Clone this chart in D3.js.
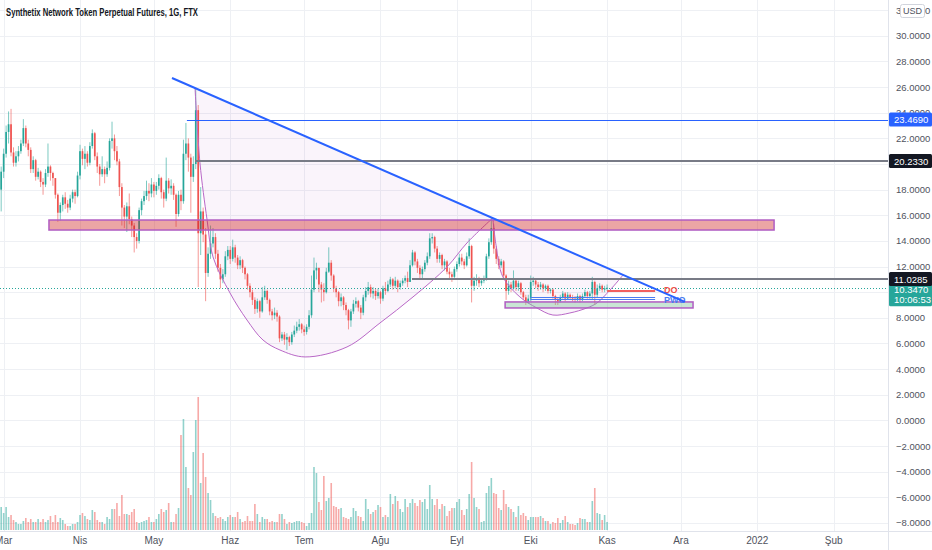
<!DOCTYPE html>
<html><head><meta charset="utf-8">
<script src="https://cdn.jsdelivr.net/npm/d3@7"></script>
<style>
body{margin:0;background:#fff;}
svg{display:block;font-family:"Liberation Sans",Arial,sans-serif;}
</style>
</head><body>
<svg id="c" width="932" height="550"></svg>
<script>
// ---------------- DATA ----------------
const title = "Synthetix Network Token Perpetual Futures, 1G, FTX";
const startDate = "2021-02-28";   // first daily candle
const firstOpen = 18.0;           // open of the first candle (others open at previous close)
const closes = [
19.4,20.8,22.5,23.1,20.9,20.1,20.6,21.0,21.6,22.8,
21.6,21.1,19.6,20.3,19.0,19.4,18.6,18.4,19.3,19.8,
19.3,18.9,17.6,16.2,16.8,17.4,16.9,16.6,17.3,17.8,
17.5,19.1,21.0,20.4,20.8,20.1,21.4,22.4,20.6,19.8,
19.2,19.6,19.2,19.7,21.8,22.0,21.0,20.2,18.2,16.6,
15.9,16.7,15.7,15.2,14.3,14.0,16.4,17.1,17.5,17.9,
17.7,18.4,17.9,18.3,18.9,17.8,17.3,18.7,18.1,18.3,
17.6,16.1,17.6,17.1,20.8,21.6,20.5,19.0,20.0,24.2,
14.6,16.3,14.5,11.5,13.0,13.8,14.3,13.0,11.9,11.0,
11.4,12.8,13.3,12.6,13.5,12.7,12.1,12.5,11.9,11.4,
10.5,10.0,9.4,8.7,9.3,8.5,9.6,10.1,9.4,8.5,
8.2,8.4,8.1,6.4,6.7,6.3,6.5,6.1,6.7,7.0,
7.3,7.5,7.1,6.9,7.3,8.2,10.2,11.7,11.9,10.6,
10.2,10.0,11.6,12.3,11.3,10.3,10.0,9.3,9.6,9.0,
8.6,7.8,8.5,9.1,9.3,8.8,8.4,9.6,10.1,10.4,
9.9,10.1,9.7,10.0,9.5,10.3,10.1,10.6,11.0,10.5,
10.9,10.4,10.7,10.9,11.1,10.8,12.1,13.1,12.4,11.9,
11.4,11.8,12.3,12.8,14.2,14.3,13.4,12.6,12.9,12.1,
12.4,11.6,11.4,11.2,11.8,12.2,12.7,12.4,12.1,12.8,
13.6,10.5,10.9,11.1,10.7,10.9,11.1,12.8,13.9,15.0,
13.4,12.6,12.1,12.4,11.3,10.1,10.6,10.3,10.9,10.4,
10.7,10.0,9.6,9.3,9.5,10.8,10.9,10.6,10.4,10.6,
10.3,10.5,10.1,10.2,9.7,9.4,9.3,9.6,9.9,9.5,
9.8,9.6,9.5,9.4,9.7,9.4,9.7,10.0,9.7,9.9,
10.8,9.8,10.3,10.5,10.2,10.3,10.347];
const highs = [
19.8,21.2,23.0,24.1,24.3,21.3,21.0,21.4,21.9,23.5,
23.0,21.9,21.3,20.6,20.4,19.7,19.5,18.9,19.6,21.6,
19.9,19.4,18.9,17.7,17.0,17.6,17.8,17.2,17.6,18.0,
18.0,19.4,21.5,21.2,21.4,21.0,21.7,22.7,22.5,20.9,
20.0,20.6,19.8,20.2,22.0,23.3,22.3,21.4,20.4,18.5,
16.8,17.0,17.7,15.9,15.4,14.6,16.6,17.3,17.9,18.7,
18.5,18.9,18.6,18.6,19.2,19.0,18.0,20.5,18.9,18.8,
18.5,17.7,17.9,18.0,21.9,23.2,22.0,20.8,20.6,25.9,
24.6,18.2,16.6,15.0,13.5,15.2,15.0,14.6,13.3,12.2,
11.8,13.2,13.6,13.6,14.1,13.7,12.9,12.8,12.6,12.0,
11.5,10.7,10.2,9.6,9.5,9.4,10.4,10.5,10.2,9.5,
8.7,8.8,8.6,8.2,6.9,6.9,6.8,6.6,6.9,7.4,
7.7,7.9,7.6,7.4,7.5,8.6,11.3,12.7,12.3,11.9,
10.8,10.7,11.9,13.5,12.5,11.4,10.5,10.1,9.9,9.7,
9.2,8.7,8.7,9.4,9.6,9.4,9.0,9.8,10.4,10.8,
10.6,10.4,10.3,10.3,10.1,10.5,10.8,10.9,11.2,11.1,
11.2,11.0,10.9,11.1,11.3,11.6,12.5,13.3,13.2,12.6,
12.1,12.0,12.5,13.1,14.6,14.6,14.4,13.6,13.1,13.0,
12.6,12.5,11.9,11.6,12.0,12.4,13.0,13.0,12.6,13.1,
14.2,13.7,11.2,11.4,11.2,11.1,11.3,13.0,14.2,15.8,
15.3,13.6,12.8,12.6,12.5,11.4,10.9,10.8,11.7,11.0,
10.9,10.8,10.1,9.8,9.8,11.3,11.2,11.0,10.8,10.8,
10.7,10.6,10.6,10.3,10.3,9.8,9.6,9.8,10.1,10.0,
10.0,9.9,9.8,9.7,9.9,9.8,9.9,10.2,10.1,10.1,
11.2,10.9,10.6,10.7,10.6,10.5,10.6];
const lows = [
16.3,18.9,20.5,21.6,20.6,19.8,19.8,20.2,20.8,21.4,
21.3,20.6,19.3,19.3,18.7,18.8,18.2,17.6,18.2,19.0,
18.7,18.3,17.3,15.5,15.6,16.3,16.5,16.2,16.4,17.0,
16.9,17.4,18.8,19.9,19.6,19.8,19.9,21.2,20.3,19.3,
18.3,19.0,18.5,19.0,19.5,21.2,20.3,19.9,17.5,15.2,
15.0,14.7,15.3,14.3,13.1,13.4,13.8,16.0,16.8,17.2,
17.1,17.4,17.4,17.6,18.0,17.3,16.6,17.1,17.7,17.6,
17.2,15.1,15.9,16.4,16.9,20.3,19.4,16.2,18.6,19.6,
10.4,12.9,13.9,9.3,11.2,12.6,13.5,12.6,11.6,10.3,
10.7,11.2,12.5,12.2,12.4,12.3,11.8,11.8,11.5,11.0,
10.2,9.6,9.0,8.3,8.4,8.0,8.4,9.4,9.1,8.2,
7.8,7.9,7.7,6.1,6.2,5.9,5.5,5.8,5.9,6.5,
6.8,7.0,6.8,6.6,6.7,7.1,8.0,10.0,11.0,10.0,
9.2,9.3,9.9,11.5,10.9,10.0,9.6,8.9,8.9,8.6,
8.2,7.1,7.3,8.3,8.8,8.5,7.9,8.2,9.3,9.8,
9.6,9.5,9.4,9.5,9.1,9.3,9.8,10.0,10.4,10.2,
10.3,10.0,10.2,10.5,10.7,10.4,10.8,12.0,12.1,11.5,
11.0,11.1,11.6,12.1,12.6,13.8,13.1,12.3,12.3,11.8,
11.7,11.4,11.0,10.8,11.1,11.6,12.0,12.1,11.8,12.0,
12.6,9.2,10.1,10.5,10.4,10.5,10.7,10.9,12.6,13.7,
13.0,12.2,11.8,11.9,11.0,9.4,9.8,10.0,10.2,10.1,
10.1,9.8,9.4,9.0,9.1,9.3,10.5,10.3,10.1,10.2,
10.0,10.1,9.9,9.9,9.5,9.0,9.0,9.2,9.5,9.3,
9.4,9.4,9.3,9.2,9.3,9.2,9.3,9.6,9.5,9.5,
9.4,9.0,9.6,10.1,10.0,10.0,10.1];
const volumes = [
23,17,23,13,15,10,8,6,6,9,
12,8,11,8,8,11,8,11,8,10,
14,8,15,8,12,10,6,4,4,6,
6,8,15,17,14,11,10,20,18,10,
8,8,6,13,11,21,21,27,14,35,
16,16,15,18,21,8,7,8,9,10,
13,8,8,11,16,21,18,20,27,8,
8,16,22,95,111,63,42,35,78,110,
133,47,77,53,37,30,17,14,12,13,
11,9,13,15,13,13,18,11,8,9,
14,9,9,26,16,8,13,11,11,8,
9,8,8,16,16,11,6,8,7,8,
9,9,
8,7,4,7,17,63,57,28,20,54,
29,32,47,24,23,21,22,13,12,11,
13,22,19,14,13,9,31,21,16,18,
20,25,23,13,15,13,36,26,34,29,
21,18,31,23,27,31,27,24,30,28,
31,21,45,31,25,31,21,26,24,14,
19,22,22,28,31,20,15,21,36,68,
32,23,21,8,9,37,44,52,37,36,
22,20,40,26,23,21,18,13,24,15,
17,14,10,13,13,13,13,14,12,9,
9,6,8,7,12,7,10,14,8,6,
6,5,7,12,11,11,8,8,29,42,
17,16,10,15,8];

const priceTicks = [-8,-6,-4,-2,0,2,4,6,8,10,12,14,16,18,20,22,24,26,28,30,32];
const monthLabels = [
  ["2021-03-01","Mar"],["2021-04-01","Nis"],["2021-05-01","May"],["2021-06-01","Haz"],
  ["2021-07-01","Tem"],["2021-08-01","Ağu"],["2021-09-01","Eyl"],["2021-10-01","Eki"],
  ["2021-11-01","Kas"],["2021-12-01","Ara"],["2022-01-01","2022"],["2022-02-01","Şub"]];

// drawing anchors: [days since 2021-03-01, price]
const trendLine = [[68.35, 26.71], [276.6, 9.24]];
const cupArc = [[77.7,25.93],[79.7,20.09],[82.6,15.63],[85.0,12.75],[91.9,9.94],[98.8,7.83],
  [105.3,6.27],[112.2,5.49],[122.4,4.95],[139.4,5.73],[152.8,7.60],[166.2,9.63],
  [180.0,11.97],[188.1,13.84],[198.6,15.79]];
const handleArc = [[198.6,15.79],[199.9,13.68],[202.7,11.19],[209.6,9.63],[216.5,8.77],
  [223.0,8.22],[229.9,8.38],[236.8,8.77],[240.9,9.16],[246.2,10.17],[251.5,11.34]];
const zoneTop = [18.4, 312.8, 14.85, 15.63];     // from day, to day, low, high
const zoneBottom = [203.6, 279.9, 8.77, 9.24];
const levelBlue = [74.4, 23.469];
const levelGray1 = [77.7, 20.233];
const levelGray2 = [165.8, 11.0285];
const lastPrice = 10.347, countdown = "10:06:53";
const doLine = [245, 264.5, 10.09];
const pwoLines = [[213.8, 264.5, 9.63], [213.8, 264.5, 9.47]];

// ---------------- SCALES ----------------
const svg = d3.select("#c");
const plotR = 888, plotB = 531;
const DAY = 864e5, base = Date.UTC(2021, 2, 1);
const atDay = d => new Date(base + d * DAY);
const x = d3.scaleUtc().domain([atDay(0), atDay(365)]).range([3.65, 3.65 + 365 * 2.463]);
const y = d3.scaleLinear().domain([0, 30]).range([420.4, 420.4 - 30 * 12.82]);
const vy = d3.scaleLinear().domain([0, d3.max(volumes)]).range([530, 397]);
const parse = d3.utcParse("%Y-%m-%d");
const t0 = parse(startDate);
const bars = closes.map((c, k) => {
  const o = k === 0 ? firstOpen : closes[k - 1];
  return {d: d3.utcDay.offset(t0, k), o, c,
    h: Math.max(highs[k], o, c), l: Math.min(lows[k], o, c), v: volumes[k], up: c >= o};
});

svg.append("defs").append("clipPath").attr("id", "plot")
  .append("rect").attr("x", 0).attr("y", 0).attr("width", plotR).attr("height", plotB);

// ---------------- GRID ----------------
const grid = svg.append("g").attr("clip-path", "url(#plot)");
grid.selectAll("line.h").data(priceTicks).join("line")
  .attr("x1", 0).attr("x2", plotR).attr("y1", d => Math.round(y(d)) + 0.5).attr("y2", d => Math.round(y(d)) + 0.5)
  .attr("stroke", "#eef0f4").attr("stroke-width", 1);
grid.selectAll("line.v").data(monthLabels).join("line")
  .attr("x1", d => Math.round(x(parse(d[0]))) + 0.5).attr("x2", d => Math.round(x(parse(d[0]))) + 0.5)
  .attr("y1", 0).attr("y2", plotB).attr("stroke", "#eef0f4").attr("stroke-width", 1);

const plot = svg.append("g").attr("clip-path", "url(#plot)");
const P = p => [x(atDay(p[0])), y(p[1])];

// arc fills
const arcLine = d3.line().curve(d3.curveCatmullRom.alpha(0.5));
[cupArc, handleArc].forEach(a => {
  plot.append("path").attr("d", arcLine(a.map(P)) + "Z").attr("fill", "rgba(156,39,176,0.05)").attr("stroke", "none");
});

// volume
plot.append("g").selectAll("rect").data(bars).join("rect")
  .attr("x", d => x(d.d) - 0.8).attr("width", 1.6)
  .attr("y", d => vy(d.v)).attr("height", d => 530 - vy(d.v))
  .attr("fill", d => d.up ? "rgba(38,166,154,0.5)" : "rgba(239,83,80,0.5)");

// candles
const cg = plot.append("g");
cg.selectAll("line").data(bars).join("line")
  .attr("x1", d => x(d.d)).attr("x2", d => x(d.d))
  .attr("y1", d => y(d.h)).attr("y2", d => y(d.l))
  .attr("stroke", d => d.up ? "#26a69a" : "#ef5350").attr("stroke-opacity", 0.6).attr("stroke-width", 1);
cg.selectAll("rect").data(bars).join("rect")
  .attr("x", d => x(d.d) - 0.85).attr("width", 1.7)
  .attr("y", d => y(Math.max(d.o, d.c)))
  .attr("height", d => Math.max(1, Math.abs(y(d.o) - y(d.c))))
  .attr("fill", d => d.up ? "#26a69a" : "#ef5350");

// arc strokes
[cupArc, handleArc].forEach(a => {
  plot.append("path").attr("d", arcLine(a.map(P))).attr("fill", "none")
    .attr("stroke", "#b968c7").attr("stroke-width", 1);
});

// zones
const zone = (z, fill) => plot.append("rect")
  .attr("x", x(atDay(z[0]))).attr("width", x(atDay(z[1])) - x(atDay(z[0])))
  .attr("y", y(z[3])).attr("height", y(z[2]) - y(z[3]))
  .attr("fill", fill).attr("stroke", "#b05cc2").attr("stroke-width", 1.5);
zone(zoneTop, "rgba(205,30,30,0.40)");
zone(zoneBottom, "rgba(120,190,150,0.40)");

// horizontal levels (snapped to the pixel grid)
const hline = (from, to, p, color, w) => {
  const yy = w % 2 === 1 ? Math.round(y(p)) + 0.5 : Math.round(y(p));
  return plot.append("line")
    .attr("x1", x(atDay(from))).attr("x2", to).attr("y1", yy).attr("y2", yy)
    .attr("stroke", color).attr("stroke-width", w);
};
hline(levelBlue[0], plotR, levelBlue[1], "#2962ff", 1);
hline(levelGray1[0], plotR, levelGray1[1], "#787b86", 2);
hline(levelGray2[0], plotR, levelGray2[1], "#787b86", 2);

// current price dotted line
plot.append("line").attr("x1", 0).attr("x2", plotR)
  .attr("y1", Math.round(y(lastPrice)) + 0.5).attr("y2", Math.round(y(lastPrice)) + 0.5)
  .attr("stroke", "#26a69a").attr("stroke-width", 1).attr("stroke-dasharray", "1,2");

// DO / PWO lines
hline(doLine[0], x(atDay(doLine[1])), doLine[2], "#f06060", 2);
pwoLines.forEach(l => hline(l[0], x(atDay(l[1])), l[2], "#4a7cf0", 1));
plot.append("text").attr("x", x(atDay(doLine[1])) + 9).attr("y", y(doLine[2]) + 2)
  .attr("font-size", 9).attr("font-weight", "bold").attr("fill", "#f0504a").text("DO");
plot.append("text").attr("x", x(atDay(doLine[1])) + 9).attr("y", y(pwoLines[1][2]) + 4.5)
  .attr("font-size", 9).attr("font-weight", "bold").attr("fill", "#4a7cf0").text("PWO");

// trend line
plot.append("line")
  .attr("x1", P(trendLine[0])[0]).attr("y1", P(trendLine[0])[1])
  .attr("x2", P(trendLine[1])[0]).attr("y2", P(trendLine[1])[1])
  .attr("stroke", "#2962ff").attr("stroke-width", 2);

// ---------------- AXES ----------------
svg.append("line").attr("x1", plotR + 0.5).attr("x2", plotR + 0.5).attr("y1", 0).attr("y2", 550).attr("stroke", "#e0e3eb");
svg.append("line").attr("x1", 0).attr("x2", 932).attr("y1", plotB + 0.5).attr("y2", plotB + 0.5).attr("stroke", "#e0e3eb");

// tick labels hidden completely behind price labels are skipped
const hiddenTicks = [10, 20];
svg.append("g").selectAll("text").data(priceTicks.filter(t => !hiddenTicks.includes(t))).join("text")
  .attr("x", 896).attr("y", d => y(d) + 3.5)
  .attr("font-size", 9.5).attr("fill", "#50535e").text(d => d3.format(".4f")(d));

svg.append("g").selectAll("text").data(monthLabels).join("text")
  .attr("x", d => x(parse(d[0]))).attr("y", 544).attr("text-anchor", "middle")
  .attr("font-size", 10).attr("fill", "#50535e").text(d => d[1]);

// USD box
svg.append("rect").attr("x", 900.5).attr("y", 4.5).attr("width", 24).attr("height", 13).attr("rx", 2)
  .attr("fill", "#fff").attr("stroke", "#d1d4dc");
svg.append("text").attr("x", 912.5).attr("y", 14).attr("text-anchor", "middle")
  .attr("font-size", 9).attr("fill", "#50535e").text("USD");

// price labels
const plabel = (top, fill, lines) => {
  const hgt = lines.length === 1 ? 14 : 24;
  svg.append("rect").attr("x", plotR + 1).attr("y", top).attr("width", 932 - plotR - 1).attr("height", hgt)
    .attr("rx", 1.5).attr("fill", fill);
  lines.forEach((t, i) => svg.append("text").attr("x", 894).attr("y", top + 10.5 + i * 10.5)
    .attr("font-size", 9.5).attr("fill", "#fff").text(t));
};
const fmt = d3.format(".4f");
plabel(y(levelBlue[1]) - 7, "#2962ff", [fmt(levelBlue[1])]);
plabel(y(levelGray1[1]) - 7, "#131722", [fmt(levelGray1[1])]);
plabel(y(lastPrice) - 5.5, "#26a69a", [fmt(lastPrice), countdown]);
plabel(y(levelGray2[1]) - 7, "#131722", [fmt(levelGray2[1])]);

// title
svg.append("text").attr("x", 6).attr("y", 16).attr("font-size", 11).attr("font-weight", "bold")
  .attr("fill", "#131722").attr("textLength", 192).attr("lengthAdjust", "spacingAndGlyphs").text(title);
</script>
</body></html>
